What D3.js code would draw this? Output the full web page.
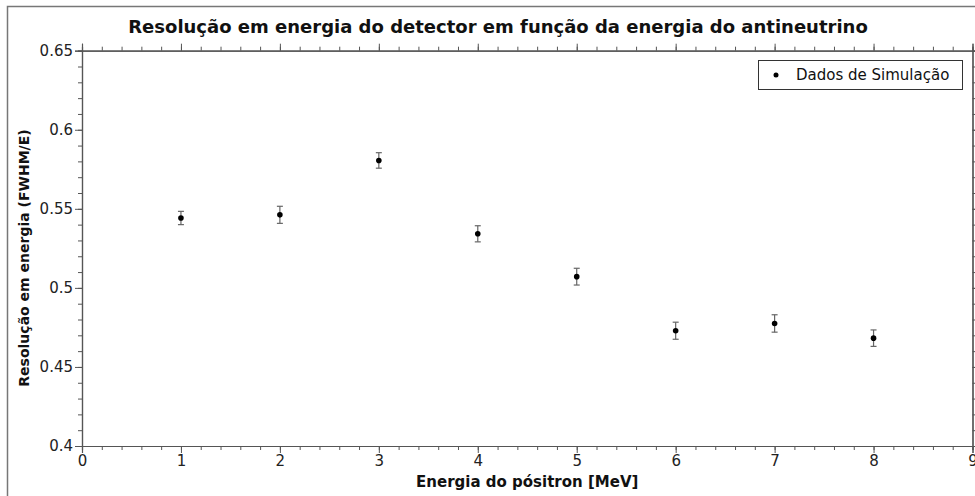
<!DOCTYPE html>
<html><head><meta charset="utf-8">
<script src="https://cdn.jsdelivr.net/npm/d3@7"></script>
<style>body{margin:0;background:#fff}svg{display:block}</style>
</head><body>
<script>
const energies = [1, 2, 3, 4, 5, 6, 7, 8];
const resolution = [0.5442, 0.5462, 0.5806, 0.5342, 0.5071, 0.4729, 0.4775, 0.4682];
const errors = [0.0042, 0.0054, 0.0049, 0.0051, 0.0053, 0.0054, 0.0055, 0.0052];
const xTicks = [0,1,2,3,4,5,6,7,8,9];
const yTicks = [0.4,0.45,0.5,0.55,0.6,0.65];
const titleText = "Resolução em energia do detector em função da energia do antineutrino";
const xLabel = "Energia do pósitron [MeV]";
const yLabel = "Resolução em energia (FWHM/E)";
const legendText = "Dados de Simulação";

const W = 975, H = 496;
const m = {l: 82, r: 972.5, t: 50.7, b: 446};
const svg = d3.select("body").append("svg").attr("width", W).attr("height", H);
const font = "DejaVu Sans, sans-serif";
const axCol = "#555";

// outer frame
svg.append("path").attr("d", `M7.5,${H} V6.5 H${W}`).attr("fill","none").attr("stroke","#777").attr("stroke-width",1.5);

const x = d3.scaleLinear().domain([0,9]).range([m.l, m.r]);
const y = d3.scaleLinear().domain([0.4,0.65]).range([m.b, m.t]);

const xMinor = d3.range(0, 9.0001, 0.2);
const yMinor = d3.range(0.4, 0.65001, 0.01);

function styleAxis(g){
  g.selectAll("path.domain").attr("stroke", axCol).attr("stroke-width", 1.2);
  g.selectAll(".tick line").attr("stroke", axCol);
  g.selectAll("text").attr("font-family", font).attr("font-size", 15).attr("fill", "#222");
}
// minor ticks
svg.append("g").attr("transform",`translate(0,${m.b})`).call(d3.axisBottom(x).tickValues(xMinor).tickSize(4).tickFormat("")).call(styleAxis);
svg.append("g").attr("transform",`translate(0,${m.t})`).call(d3.axisTop(x).tickValues(xMinor).tickSize(4).tickFormat("")).call(styleAxis);
svg.append("g").attr("transform",`translate(${m.l},0)`).call(d3.axisLeft(y).tickValues(yMinor).tickSize(4).tickFormat("")).call(styleAxis);
svg.append("g").attr("transform",`translate(${m.r},0)`).call(d3.axisRight(y).tickValues(yMinor).tickSize(4).tickFormat("")).call(styleAxis);
// major ticks
svg.append("g").attr("transform",`translate(0,${m.b})`).call(d3.axisBottom(x).tickValues(xTicks).tickSize(7).tickPadding(2).tickFormat(d3.format("d"))).call(styleAxis);
svg.append("g").attr("transform",`translate(0,${m.t})`).call(d3.axisTop(x).tickValues(xTicks).tickSize(7).tickFormat("")).call(styleAxis);
svg.append("g").attr("transform",`translate(${m.l},0)`).call(d3.axisLeft(y).tickValues(yTicks).tickSize(7).tickPadding(2).tickFormat(d => d3.format("")(+d.toFixed(2)))).call(styleAxis);
svg.append("g").attr("transform",`translate(${m.r},0)`).call(d3.axisRight(y).tickValues(yTicks).tickSize(7).tickFormat("")).call(styleAxis);

// title
svg.append("text").attr("x", 498).attr("y", 33).attr("text-anchor","middle")
  .attr("font-family", font).attr("font-weight","bold").attr("font-size", 18).attr("fill","#111").text(titleText);
// axis labels
svg.append("text").attr("x", (m.l+m.r)/2).attr("y", 487).attr("text-anchor","middle")
  .attr("font-family", font).attr("font-weight","bold").attr("font-size", 15).attr("fill","#111").text(xLabel);
svg.append("text").attr("transform", `translate(29,258) rotate(-90)`).attr("text-anchor","middle")
  .attr("font-family", font).attr("font-weight","bold").attr("font-size", 14).attr("fill","#111").text(yLabel);

// data
const pts = energies.map((e,i)=>({e, v: resolution[i], err: errors[i]}));
const g = svg.append("g");
pts.forEach(p=>{
  const cx = x(p.e), y1 = y(p.v+p.err), y2 = y(p.v-p.err);
  g.append("line").attr("x1",cx).attr("x2",cx).attr("y1",y1).attr("y2",y2).attr("stroke","#666").attr("stroke-width",1.2);
  g.append("line").attr("x1",cx-3).attr("x2",cx+3).attr("y1",y1).attr("y2",y1).attr("stroke","#666").attr("stroke-width",1.2);
  g.append("line").attr("x1",cx-3).attr("x2",cx+3).attr("y1",y2).attr("y2",y2).attr("stroke","#666").attr("stroke-width",1.2);
  g.append("circle").attr("cx",cx).attr("cy",y(p.v)).attr("r",2.8).attr("fill","#000");
});

// legend
const lg = svg.append("g");
lg.append("rect").attr("x",758.5).attr("y",60.5).attr("width",204).attr("height",29).attr("fill","#fff").attr("stroke","#333").attr("stroke-width",1);
lg.append("circle").attr("cx",776).attr("cy",75).attr("r",2.5).attr("fill","#000");
lg.append("text").attr("x",796).attr("y",80).attr("font-family",font).attr("font-size",15).attr("fill","#111").text(legendText);
</script>
</body></html>
